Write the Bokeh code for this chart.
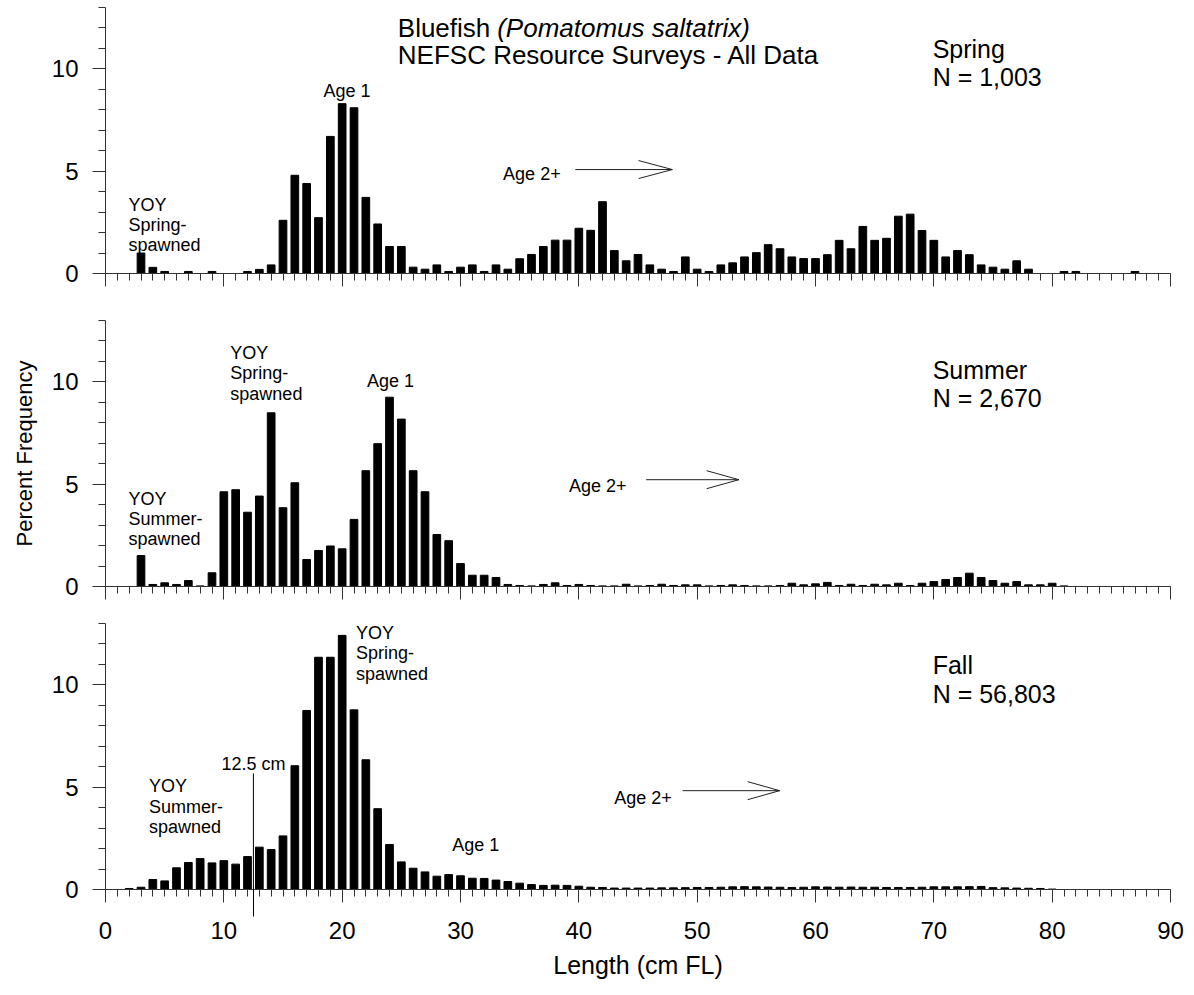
from bokeh.plotting import figure
from bokeh.models import Range1d, FixedTicker, ColumnDataSource, LinearAxis
from bokeh.layouts import column
from bokeh.core.properties import value
from bokeh.embed import file_html
from bokeh.resources import INLINE

FONT = "Liberation Sans"

# ---------------- data ----------------
lengths = list(range(1, 91))  # cm FL

spring = [0, 0, 1.0, 0.3, 0.1, 0, 0.1, 0, 0.1, 0,
          0, 0.1, 0.2, 0.42, 2.6, 4.8, 4.4, 2.73, 6.7, 8.3,
          8.1, 3.72, 2.42, 1.32, 1.32, 0.31, 0.21, 0.42, 0.1, 0.31,
          0.42, 0.1, 0.42, 0.21, 0.72, 0.93, 1.32, 1.63, 1.63, 2.21,
          2.11, 3.51, 1.12, 0.62, 0.93, 0.42, 0.21, 0.1, 0.81, 0.21,
          0.1, 0.42, 0.52, 0.81, 1.02, 1.41, 1.21, 0.81, 0.73, 0.73,
          0.92, 1.62, 1.21, 2.3, 1.62, 1.72, 2.8, 2.9, 2.1, 1.62,
          0.81, 1.12, 0.92, 0.42, 0.31, 0.21, 0.62, 0.21, 0, 0,
          0.1, 0.1, 0, 0, 0, 0, 0.1, 0, 0, 0]

summer = [0, 0, 1.51, 0.1, 0.18, 0.1, 0.29, 0.03, 0.67, 4.63,
          4.73, 3.63, 4.42, 8.49, 3.85, 5.07, 1.32, 1.76, 1.98, 1.84,
          3.28, 5.66, 6.98, 9.25, 8.18, 5.66, 4.63, 2.54, 2.24, 1.12,
          0.55, 0.55, 0.44, 0.1, 0.05, 0.03, 0.1, 0.18, 0.05, 0.1,
          0.05, 0.03, 0.03, 0.11, 0.03, 0.05, 0.11, 0.05, 0.08, 0.08,
          0.03, 0.05, 0.08, 0.05, 0.03, 0.03, 0.05, 0.16, 0.08, 0.13,
          0.2, 0.05, 0.11, 0.05, 0.11, 0.08, 0.16, 0.05, 0.16, 0.24,
          0.34, 0.44, 0.65, 0.44, 0.29, 0.16, 0.24, 0.08, 0.08, 0.16,
          0.03, 0, 0, 0, 0, 0, 0, 0, 0, 0]

fall = [0, 0.05, 0.11, 0.49, 0.42, 1.06, 1.32, 1.51, 1.3, 1.41,
        1.24, 1.61, 2.07, 1.95, 2.62, 6.05, 8.75, 11.35, 11.35, 12.42,
        8.78, 6.34, 3.95, 2.2, 1.35, 1.04, 0.86, 0.65, 0.73, 0.67,
        0.55, 0.54, 0.46, 0.39, 0.31, 0.24, 0.2, 0.21, 0.2, 0.16,
        0.11, 0.1, 0.07, 0.07, 0.07, 0.07, 0.08, 0.08, 0.09, 0.1,
        0.1, 0.11, 0.13, 0.14, 0.13, 0.12, 0.11, 0.1, 0.11, 0.13,
        0.12, 0.11, 0.12, 0.11, 0.11, 0.1, 0.1, 0.1, 0.11, 0.13,
        0.13, 0.13, 0.14, 0.15, 0.09, 0.08, 0.07, 0.06, 0.05, 0.02,
        0, 0, 0, 0, 0, 0, 0, 0, 0, 0]

x_ticks = list(range(0, 91, 10))
x_minor = list(range(0, 91))
y_ticks = [0, 5, 10]
y_minor = list(range(0, 14))

title_plain = "Bluefish "
title_italic = "(Pomatomus saltatrix)"
title_line2 = "NEFSC Resource Surveys - All Data"

seasons = ["Spring", "Summer", "Fall"]
counts = ["N = 1,003", "N = 2,670", "N = 56,803"]

# annotation texts per panel: (text, x, y_baseline, size, align)
notes_spring = [
    ("YOY", 1.94, 3.37, "18px", "left"),
    ("Spring-", 1.94, 2.37, "18px", "left"),
    ("spawned", 1.94, 1.37, "18px", "left"),
    ("Age 1", 20.4, 8.92, "18px", "center"),
    ("Age 2+", 33.6, 4.84, "18px", "left"),
]
notes_summer = [
    ("YOY", 1.94, 4.30, "18px", "left"),
    ("Summer-", 1.94, 3.30, "18px", "left"),
    ("spawned", 1.94, 2.30, "18px", "left"),
    ("YOY", 10.55, 11.42, "18px", "left"),
    ("Spring-", 10.55, 10.42, "18px", "left"),
    ("spawned", 10.55, 9.42, "18px", "left"),
    ("Age 1", 24.08, 10.02, "18px", "center"),
    ("Age 2+", 39.17, 4.90, "18px", "left"),
]
notes_fall = [
    ("YOY", 21.16, 12.55, "18px", "left"),
    ("Spring-", 21.16, 11.55, "18px", "left"),
    ("spawned", 21.16, 10.55, "18px", "left"),
    ("12.5 cm", 12.5, 6.14, "18px", "center"),
    ("YOY", 3.67, 5.05, "18px", "left"),
    ("Summer-", 3.67, 4.05, "18px", "left"),
    ("spawned", 3.67, 3.05, "18px", "left"),
    ("Age 1", 31.28, 2.18, "18px", "center"),
    ("Age 2+", 42.99, 4.45, "18px", "left"),
]
season_label_pos = [(69.9, 10.95, 9.58), (69.9, 10.58, 9.19), (69.9, 10.97, 9.55)]
# arrows: (x_start, x_tip, x_head_back, y)
age2_arrows = [(39.7, 47.9, 45.05, 5.08), (45.69, 53.53, 50.8, 5.22), (48.77, 56.97, 54.27, 4.83)]
head_half = 0.44
cut_length = 12.5
cut_top = 5.67

AX_COLOR = "#333333"


def style_tick_axis(ax):
    """x axis that carries the axis line and the (unlabelled) ticks"""
    ax.ticker = FixedTicker(ticks=x_ticks, minor_ticks=x_minor)
    ax.major_tick_out = 13
    ax.major_tick_in = 0
    ax.minor_tick_out = 7
    ax.minor_tick_in = 0
    ax.axis_line_color = AX_COLOR
    ax.major_tick_line_color = AX_COLOR
    ax.minor_tick_line_color = AX_COLOR
    ax.major_label_overrides = {t: "" for t in x_ticks}
    ax.major_label_standoff = 0
    ax.major_label_text_font = FONT
    ax.major_label_text_font_size = "1px"


def make_panel(vals, border_top, border_bottom, last, ylabel=None):
    p = figure(frame_width=1065, frame_height=266,
               x_range=Range1d(0, 90), y_range=Range1d(0, 13),
               output_backend="svg", toolbar_location=None,
               x_axis_location=None if last else "below",
               min_border_left=105, min_border_right=16,
               min_border_top=border_top, min_border_bottom=border_bottom)
    p.outline_line_color = None
    p.xgrid.visible = False
    p.ygrid.visible = False
    p.background_fill_color = "white"
    p.border_fill_color = "white"

    src = ColumnDataSource(dict(x=lengths, top=vals))
    p.vbar(x="x", top="top", bottom=0, width=0.65, source=src,
           fill_color="black", line_color="black", line_width=1)

    if not last:
        style_tick_axis(p.xaxis[0])
    else:
        # axis line + ticks, next to the plot
        tick_axis = LinearAxis()
        style_tick_axis(tick_axis)
        p.add_layout(tick_axis, "below")
        # labelled axis; its single minor tick is the 12.5 cm cut reaching below the axis
        lab_axis = LinearAxis(
            ticker=FixedTicker(ticks=x_ticks, minor_ticks=[cut_length]),
            axis_line_color=None, major_tick_line_color=None,
            major_tick_out=0, major_tick_in=0,
            minor_tick_line_color="black", minor_tick_in=16, minor_tick_out=14,
            major_label_text_font=FONT, major_label_text_font_size="24px",
            major_label_text_color="black", major_label_standoff=5,
            axis_label="Length (cm FL)", axis_label_text_font=FONT,
            axis_label_text_font_size="25px", axis_label_text_font_style="normal",
            axis_label_text_color="black", axis_label_standoff=9)
        p.add_layout(lab_axis, "below")

    ya = p.yaxis[0]
    ya.ticker = FixedTicker(ticks=y_ticks, minor_ticks=y_minor)
    ya.major_tick_out = 13
    ya.major_tick_in = 0
    ya.minor_tick_out = 7
    ya.minor_tick_in = 0
    ya.axis_line_color = AX_COLOR
    ya.major_tick_line_color = AX_COLOR
    ya.minor_tick_line_color = AX_COLOR
    ya.major_label_text_font = FONT
    ya.major_label_text_font_size = "24px"
    ya.major_label_text_color = "black"
    ya.major_label_standoff = 14
    if ylabel:
        ya.axis_label = ylabel
        ya.axis_label_text_font = FONT
        ya.axis_label_text_font_size = "22px"
        ya.axis_label_text_font_style = "normal"
        ya.axis_label_text_color = "black"
        ya.axis_label_standoff = 12
    return p


panels = []
settings = [(7, 23, False, None), (24, 19, False, "Percent Frequency"), (18, 0, True, None)]
all_vals = [spring, summer, fall]
all_notes = [notes_spring, notes_summer, notes_fall]

for i in range(3):
    bt, bb, last, yl = settings[i]
    p = make_panel(all_vals[i], bt, bb, last, yl)

    # season and N labels
    sx, sy1, sy2 = season_label_pos[i]
    p.text(x=[sx, sx], y=[sy1, sy2], text=[seasons[i], counts[i]],
           text_font=value(FONT), text_font_size="25px", text_color="black",
           text_align="left", text_baseline="alphabetic")

    # annotations
    notes = all_notes[i]
    nsrc = ColumnDataSource(dict(
        x=[n[1] for n in notes], y=[n[2] for n in notes], text=[n[0] for n in notes],
        size=[n[3] for n in notes], align=[n[4] for n in notes]))
    p.text(x="x", y="y", text="text", source=nsrc, text_font=value(FONT),
           text_font_size="size", text_align="align", text_color="black",
           text_baseline="alphabetic")

    # Age 2+ arrow
    x0, x1, xb, ay = age2_arrows[i]
    p.multi_line(xs=[[x0, x1], [xb, x1, xb]],
                 ys=[[ay, ay], [ay + head_half, ay, ay - head_half]],
                 line_color="#222222", line_width=1)
    panels.append(p)

# title in top panel
top = panels[0]
top.text(x=[24.7], y=[12.01], text=[title_plain], text_font=value(FONT),
         text_font_size="26px", text_color="black", text_baseline="alphabetic")
top.text(x=[33.1], y=[12.01], text=[title_italic], text_font=value(FONT),
         text_font_size="26px", text_font_style="italic", text_color="black",
         text_baseline="alphabetic")
top.text(x=[24.7], y=[10.66], text=[title_line2], text_font=value(FONT),
         text_font_size="26px", text_color="black", text_baseline="alphabetic")

# 12.5 cm cut line inside the fall panel
panels[2].segment(x0=[cut_length], y0=[0], x1=[cut_length], y1=[cut_top],
                  line_color="black", line_width=1)

layout = column(*panels, spacing=0)
open("out.html", "w").write(file_html(layout, INLINE))
